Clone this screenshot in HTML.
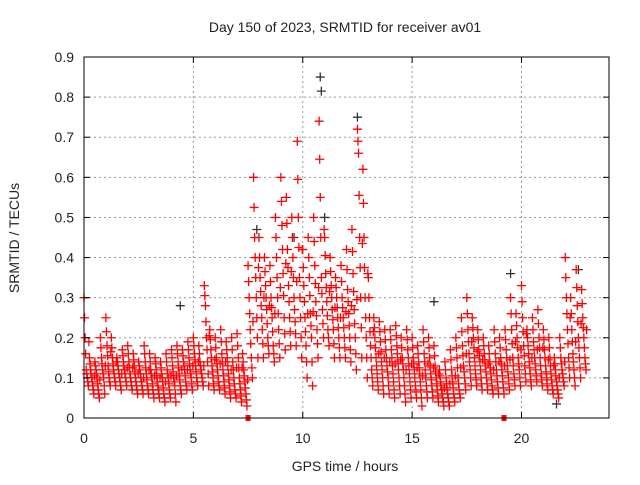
<!DOCTYPE html>
<html><head><meta charset="utf-8"><style>
body{margin:0;background:#fff}
svg text{font-family:"Liberation Sans",sans-serif;font-size:14px;fill:#222}
</style></head><body>
<svg id="chart" width="640" height="480" viewBox="0 0 640 480">
<rect width="640" height="480" fill="#fff"/>
<text x="345" y="32" text-anchor="middle">Day 150 of 2023, SRMTID for receiver av01</text>
<text transform="translate(19,238) rotate(-90)" text-anchor="middle">SRMTID / TECUs</text>
<text x="345" y="471" text-anchor="middle">GPS time / hours</text>
<g id="grid"></g><g id="black"></g><g id="red"></g><g id="axes"></g>
</svg>
<script>
const xTicks=[0,5,10,15,20];
const yTicks=[0,0.1,0.2,0.3,0.4,0.5,0.6,0.7,0.8,0.9];
const binStart=0, binStep=0.25;
const s1=[0.3,0.15,0.14,0.2,0.25,0.2,0.15,0.17,0.18,0.16,0.14,0.18,0.16,0.15,0.14,0.16,0.17,0.18,0.17,0.19,0.2,0.18,0.33,0.22,0.2,0.22,0.19,0.2,0.21,0.16,0.38,0.6,0.45,0.4,0.38,0.5,0.6,0.55,0.5,0.69,0.42,0.45,0.5,0.74,0.45,0.4,0.35,0.38,0.42,0.47,0.72,0.62,0.35,0.25,0.24,0.22,0.22,0.23,0.2,0.22,0.2,0.18,0.22,0.2,0.18,0.12,0.14,0.17,0.2,0.25,0.3,0.25,0.22,0.2,0.18,0.22,0.2,0.22,0.3,0.26,0.33,0.22,0.25,0.27,0.22,0.2,0.15,0.2,0.4,0.3,0.37,0.32];
const s2=[0.2,0.12,0.12,0.15,0.18,0.15,0.13,0.14,0.14,0.13,0.12,0.14,0.12,0.12,0.11,0.12,0.13,0.14,0.14,0.15,0.16,0.14,0.28,0.17,0.15,0.16,0.15,0.14,0.15,0.12,0.3,0.45,0.35,0.33,0.3,0.4,0.48,0.42,0.4,0.5,0.33,0.35,0.38,0.55,0.36,0.33,0.3,0.3,0.32,0.36,0.66,0.45,0.25,0.2,0.19,0.17,0.17,0.18,0.15,0.17,0.15,0.14,0.16,0.15,0.13,0.09,0.1,0.12,0.15,0.18,0.22,0.2,0.17,0.16,0.14,0.16,0.15,0.17,0.22,0.2,0.25,0.18,0.19,0.2,0.17,0.15,0.12,0.15,0.3,0.22,0.28,0.25];
const s3=[0.12,0.1,0.1,0.12,0.13,0.12,0.11,0.12,0.11,0.1,0.1,0.11,0.1,0.09,0.09,0.1,0.1,0.11,0.12,0.12,0.13,0.12,0.2,0.13,0.12,0.12,0.11,0.1,0.1,0.09,0.22,0.35,0.28,0.27,0.25,0.3,0.36,0.33,0.3,0.35,0.25,0.26,0.29,0.35,0.29,0.27,0.25,0.25,0.26,0.27,0.45,0.3,0.18,0.15,0.14,0.13,0.13,0.14,0.12,0.13,0.12,0.11,0.12,0.11,0.1,0.07,0.07,0.09,0.1,0.13,0.16,0.15,0.14,0.13,0.11,0.12,0.12,0.13,0.15,0.15,0.18,0.14,0.15,0.15,0.13,0.11,0.09,0.12,0.22,0.16,0.2,0.2];
const s4=[0.1,0.08,0.07,0.1,0.1,0.1,0.09,0.1,0.09,0.08,0.08,0.08,0.07,0.07,0.06,0.07,0.08,0.08,0.09,0.1,0.1,0.1,0.14,0.1,0.09,0.09,0.08,0.07,0.07,0.06,0.15,0.25,0.22,0.2,0.18,0.22,0.25,0.25,0.24,0.25,0.18,0.2,0.22,0.27,0.22,0.22,0.2,0.2,0.2,0.2,0.3,0.2,0.12,0.11,0.1,0.1,0.09,0.1,0.08,0.09,0.08,0.07,0.08,0.08,0.07,0.05,0.05,0.06,0.07,0.1,0.12,0.11,0.1,0.1,0.08,0.09,0.09,0.1,0.11,0.12,0.13,0.11,0.12,0.11,0.1,0.08,0.07,0.1,0.15,0.12,0.15,0.15];
const s5=[0.08,0.06,0.05,0.06,0.08,0.08,0.07,0.08,0.07,0.06,0.06,0.06,0.05,0.05,0.04,0.05,0.04,0.06,0.07,0.07,0.08,0.08,0.08,0.07,0.07,0.06,0.05,0.05,0.04,0.03,0.1,0.15,0.15,0.16,0.14,0.15,0.17,0.18,0.18,0.15,0.1,0.08,0.15,0.2,0.18,0.15,0.15,0.15,0.14,0.12,0.15,0.1,0.08,0.07,0.06,0.06,0.05,0.06,0.04,0.05,0.05,0.03,0.05,0.05,0.04,0.03,0.03,0.04,0.05,0.07,0.08,0.08,0.07,0.07,0.06,0.06,0.06,0.07,0.08,0.08,0.09,0.08,0.09,0.08,0.07,0.06,0.05,0.08,0.1,0.08,0.1,0.12];
const blackX=[10.8,10.85,12.5,4.4,19.5,21.6,16.0,7.9,9.6,11.0,22.6];
const blackY=[0.85,0.815,0.75,0.28,0.36,0.035,0.29,0.47,0.45,0.5,0.37];
const zeroX=[7.5,19.2];
const X0=84,X1=609,Y0=418,Y1=57,XMAX=24,YMAX=0.9;
const sx=v=>X0+(X1-X0)*v/XMAX, sy=v=>Y0-(Y0-Y1)*v/YMAX;
const NS="http://www.w3.org/2000/svg";
function mk(tag,attrs,parent){const e=document.createElementNS(NS,tag);for(const k in attrs)e.setAttribute(k,attrs[k]);parent.appendChild(e);return e;}
const grid=document.getElementById('grid'),axes=document.getElementById('axes');
yTicks.forEach(t=>{
  if(t>0){const l=mk('line',{x1:X0,x2:X1,y1:sy(t),y2:sy(t),stroke:'#999','stroke-dasharray':'2,3'},grid);
  
  }
  const tx=mk('text',{x:X0-10,y:sy(t)+5,'text-anchor':'end'},axes);tx.textContent=String(t);
  
  
  mk('line',{x1:X0,x2:X0+6,y1:sy(t),y2:sy(t),stroke:'#000'},axes);
  mk('line',{x1:X1,x2:X1-6,y1:sy(t),y2:sy(t),stroke:'#000'},axes);
});
xTicks.forEach(t=>{
  if(t>0){const l=mk('line',{x1:sx(t),x2:sx(t),y1:Y0,y2:Y1,stroke:'#999','stroke-dasharray':'2,3'},grid);
  
  }
  const tx=mk('text',{x:sx(t),y:Y0+25,'text-anchor':'middle'},axes);tx.textContent=String(t);
  
  
  mk('line',{x1:sx(t),x2:sx(t),y1:Y0,y2:Y0-6,stroke:'#000'},axes);
  mk('line',{x1:sx(t),x2:sx(t),y1:Y1,y2:Y1+6,stroke:'#000'},axes);
});
const frame=mk('rect',{x:X0,y:Y1,width:X1-X0,height:Y0-Y1,fill:'none',stroke:'#000'},axes);


function plus(x,y,color,parent){
  const p=mk('path',{d:`M${x-4.5},${y}h9M${x},${y-4.5}v9`,stroke:color,'stroke-width':1.3,fill:'none'},parent);
  return p;
}
const blackG=document.getElementById('black');
blackX.forEach((h,i)=>{const p=plus(sx(h),sy(blackY[i]),'#333',blackG);
  
  });
const redG=document.getElementById('red');
[s1,s2,s3,s4,s5].forEach((arr,k)=>{
  arr.forEach((v,i)=>{
    const h=binStart+i*binStep+k*0.05;
    const p=plus(sx(h),sy(v),'#f00',redG);
    
    
    const v2=(v+[s2,s3,s4,s5,s1][k][i])/2;
    const q=plus(sx(h+0.025),sy(v2),'#f00',redG);
    
    
  });
});
zeroX.forEach(h=>{const r=mk('rect',{x:sx(h)-2.5,y:Y0-3,width:5,height:6,fill:'#f00'},redG);
  
  });
</script>
</body></html>
